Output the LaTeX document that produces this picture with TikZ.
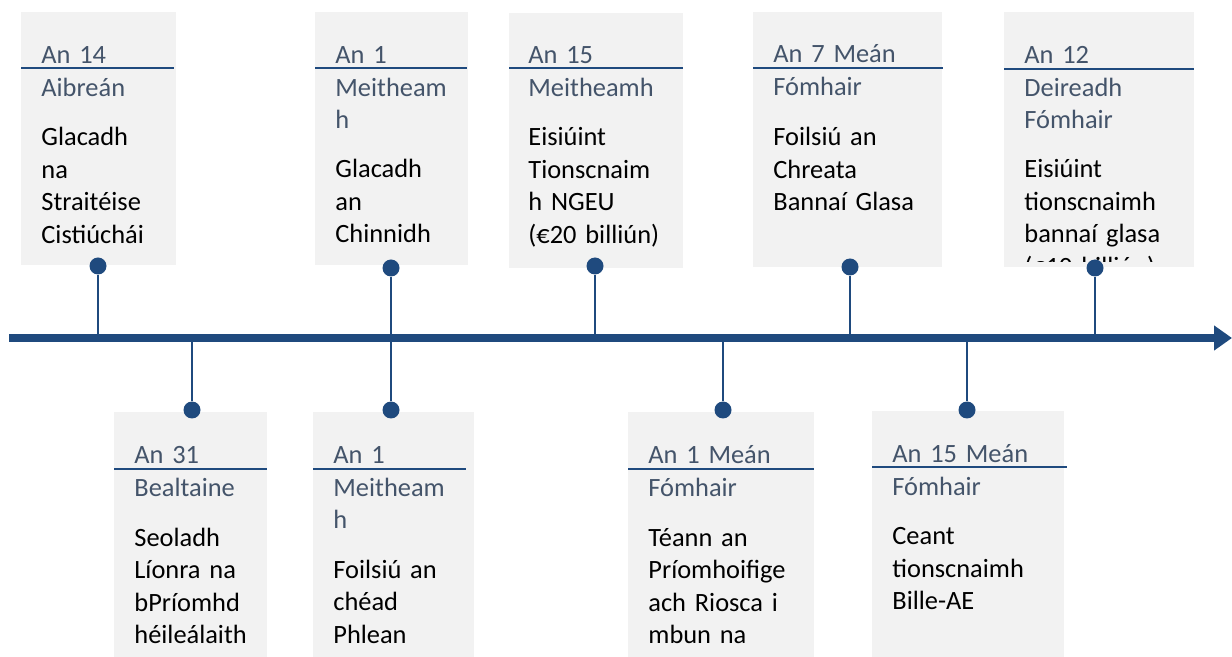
\documentclass[tikz,border=0pt]{standalone}
\usepackage{fontspec}
\setmainfont{Carlito}
\usetikzlibrary{arrows.meta}
\definecolor{timelineblue}{RGB}{31,74,126}
\definecolor{datetext}{RGB}{68,84,106}
\definecolor{boxgrey}{RGB}{242,242,242}
\tikzset{
  datelabel/.style={anchor=base west,inner sep=0pt,text width=95pt,align=left,text=datetext,font=\fontsize{13.2}{16.25}\selectfont},
  bodylabel/.style={datelabel,text=black},
  eventdot/.style={circle,fill=timelineblue,minimum size=8.5pt,inner sep=0pt},
  stem/.style={timelineblue,line width=1.3pt},
  daterule/.style={timelineblue,line width=1pt},
  timeaxis/.style={timelineblue,line width=3.6pt,-{Triangle[length=9pt,width=12pt]}}
}

\begin{document}
\begin{tikzpicture}[x=0.5pt,y=-0.5pt]
        \clip (0,0) rectangle (1232,657);
        \fill[white] (0,0) rectangle (1232,657);

        % timeline
        \coordinate (axisstart) at (9,338);
        \coordinate (axisend) at (1232,338);
        \draw[timeaxis] (axisstart) -- (axisend);

        % events above the line
        \fill[boxgrey] (21,12) rectangle (176,265);
        \draw[daterule] (21,68.5) -- (174,68.5);
        \node[datelabel] (date1) at (41,64) {An 14\\Aibreán};
        \node[bodylabel] (text1) at (41,146) {Glacadh\\na\\Straitéise\\Cistiúchái};
        \node[eventdot] (dot1) at (98,266) {};
        \coordinate (tick1) at (98,338);
        \draw[stem] (dot1) -- (tick1);

        \fill[boxgrey] (315,12) rectangle (468,265);
        \draw[daterule] (315,68.5) -- (467,68.5);
        \node[datelabel] (date3) at (335,64) {An 1\\Meitheam\\h};
        \node[bodylabel] (text3) at (335,178) {Glacadh\\an\\Chinnidh};
        \node[eventdot] (dot3) at (391,268) {};
        \coordinate (tick3) at (391,338);
        \draw[stem] (dot3) -- (tick3);

        \fill[boxgrey] (509,13) rectangle (683,268);
        \draw[daterule] (509,68.5) -- (683,68.5);
        \node[datelabel] (date5) at (528,64) {An 15\\Meitheamh};
        \node[bodylabel] (text5) at (528,146) {Eisiúint\\Tionscnaim\\h NGEU\\(€20 billiún)};
        \node[eventdot] (dot5) at (595,266) {};
        \coordinate (tick5) at (595,338);
        \draw[stem] (dot5) -- (tick5);

        \fill[boxgrey] (753,12) rectangle (942,267);
        \draw[daterule] (753,68) -- (943,68);
        \node[datelabel] (date7) at (773,63) {An 7 Meán\\Fómhair};
        \node[bodylabel] (text7) at (773,146) {Foilsiú an\\Chreata\\Bannaí Glasa};
        \node[eventdot] (dot7) at (850,267) {};
        \coordinate (tick7) at (850,338);
        \draw[stem] (dot7) -- (tick7);

        \fill[boxgrey] (1004,12) rectangle (1194,267);
        \draw[daterule] (1004,69) -- (1194,69);
        \node[datelabel] (date9) at (1024,64) {An 12\\Deireadh\\Fómhair};
        \begin{scope}
            \clip (1004,12) rectangle (1194,262);
            \node[bodylabel] (text9) at (1024,178) {Eisiúint\\tionscnaimh\\bannaí glasa\\(€10 billiún)};
        \end{scope}
        \node[eventdot] (dot9) at (1095,268) {};
        \coordinate (tick9) at (1095,338);
        \draw[stem] (dot9) -- (tick9);

        % events below the line
        \fill[boxgrey] (114,412) rectangle (267,660);
        \draw[daterule] (114,469) -- (267,469);
        \node[datelabel] (date2) at (134,464) {An 31\\Bealtaine};
        \node[bodylabel] (text2) at (134,546) {Seoladh\\Líonra na\\bPríomhd\\héileálaith};
        \coordinate (tick2) at (192,338);
        \node[eventdot] (dot2) at (192,410) {};
        \draw[stem] (tick2) -- (dot2);

        \fill[boxgrey] (313,412) rectangle (474,660);
        \draw[daterule] (313,469) -- (466,469);
        \node[datelabel] (date4) at (333,464) {An 1\\Meitheam\\h};
        \node[bodylabel] (text4) at (333,578) {Foilsiú an\\chéad\\Phlean};
        \coordinate (tick4) at (391,338);
        \node[eventdot] (dot4) at (391,410) {};
        \draw[stem] (tick4) -- (dot4);

        \fill[boxgrey] (628,412) rectangle (814,660);
        \draw[daterule] (628,469) -- (814,469);
        \node[datelabel] (date6) at (648,464) {An 1 Meán\\Fómhair};
        \node[bodylabel] (text6) at (648,546) {Téann an\\Príomhoifige\\ach Riosca i\\mbun na};
        \coordinate (tick6) at (723,338);
        \node[eventdot] (dot6) at (723,410) {};
        \draw[stem] (tick6) -- (dot6);

        \fill[boxgrey] (872,411) rectangle (1064,660);
        \draw[daterule] (872,467.5) -- (1067,467.5);
        \node[datelabel] (date8) at (892,463) {An 15 Meán\\Fómhair};
        \node[bodylabel] (text8) at (892,545) {Ceant\\tionscnaimh\\Bille-AE};
        \coordinate (tick8) at (967,338);
        \node[eventdot] (dot8) at (967,410) {};
        \draw[stem] (tick8) -- (dot8);
    \end{tikzpicture}
\end{document}
